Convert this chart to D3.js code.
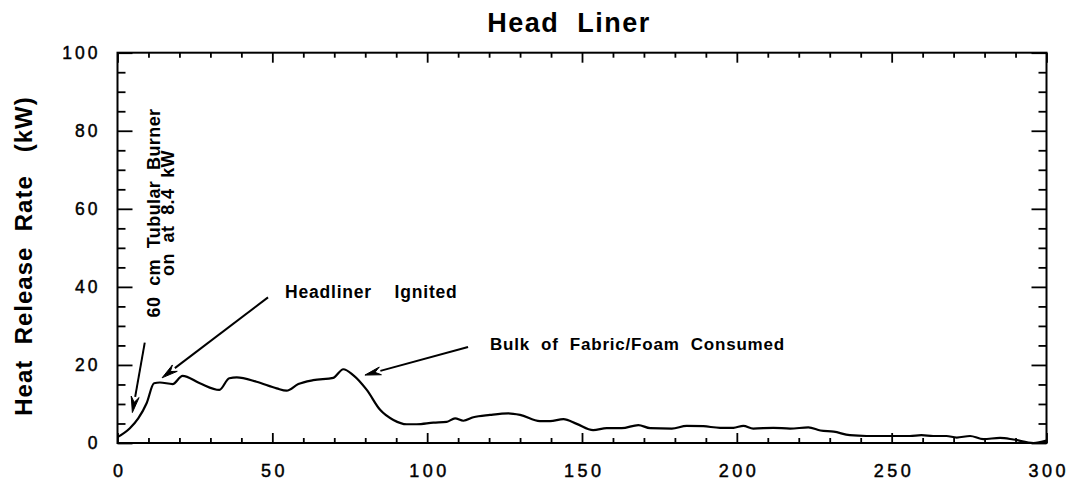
<!DOCTYPE html>
<html>
<head>
<meta charset="utf-8">
<script src="https://cdn.jsdelivr.net/npm/d3@7"></script>
<style>
  html, body { margin: 0; padding: 0; background: #fff; }
  svg { display: block; font-family: "Liberation Sans", Arial, Helvetica, sans-serif; }
</style>
</head>
<body>
<svg id="chart" width="1079" height="484"></svg>
<script>
// Heat release rate of a head liner sample, time in seconds
const timeSec = [0, 4, 6.7, 9.4, 11.8, 13.7, 17.8, 21.0, 26.6, 32.9, 36.1, 38.5, 44.9, 51.4, 54.6,
  58.4, 63.2, 69.7, 72.9, 76.1, 80.5, 84.8, 89.1, 93.4, 96.6, 102, 106.3, 109, 111.7, 114.9,
  120.3, 126.2, 130, 136.4, 139.7, 144, 148.3, 153.6, 158, 162.8, 168.2, 172, 179, 183.8,
  189.2, 194.6, 198.9, 202.1, 205.3, 211.8, 217.2, 223.1, 227, 231.3, 236.5, 241.9, 249.4,
  255.9, 259.6, 263.4, 267.7, 271, 275.3, 279.6, 285, 289.3, 295.8, 300];
const hrrKW = [1.5, 3.8, 6.3, 10.2, 15.3, 15.5, 15.1, 17.2, 15.3, 13.6, 16.6, 16.8, 15.7, 14.0, 13.4,
  15.1, 16.1, 16.7, 18.9, 17.4, 13.6, 8.5, 5.9, 4.8, 4.8, 5.2, 5.4, 6.3, 5.7, 6.6,
  7.2, 7.6, 7.2, 5.6, 5.6, 6.1, 4.9, 3.3, 3.8, 3.8, 4.6, 3.8, 3.7, 4.4,
  4.3, 3.9, 3.9, 4.4, 3.7, 3.9, 3.7, 4.0, 3.2, 2.9, 2.0, 1.8, 1.8,
  1.8, 2.0, 1.8, 1.8, 1.4, 1.8, 1.0, 1.3, 0.9, 0, 0.6];

const xMajorTicks = [0, 50, 100, 150, 200, 250, 300];
const xMinorTicks = d3.range(0, 301, 10).filter(v => v % 50 !== 0);
const yMajorTicks = [0, 20, 40, 60, 80, 100];
const yMinorTicks = d3.range(0, 101, 5).filter(v => v % 20 !== 0);

const titleText = "Head  Liner";
const yTitleText = "Heat  Release  Rate   (kW)";

// Annotations: label text and the arrow each one carries (data coordinates)
const burnerLines = ["60  cm  Tubular  Burner", "on  at  8.4  kW"];
const burnerArrow = { from: [8.8, 25.7], to: [4.8, 7.8] };
const ignitedText = "Headliner    Ignited";
const ignitedArrow = { from: [48.6, 37.3], to: [14.4, 16.7] };
const bulkText = "Bulk  of  Fabric/Foam  Consumed";
const bulkArrow = { from: [113.2, 24.6], to: [79.9, 17.4] };

const margin = { left: 117.5, right: 1079 - 1046.5, top: 52.7, bottom: 484 - 443 };
const W = 1079, H = 484;

const svg = d3.select("#chart");
const x = d3.scaleLinear().domain([0, 300]).range([margin.left, W - margin.right]);
const y = d3.scaleLinear().domain([0, 100]).range([H - margin.bottom, margin.top]);

// Frame
svg.append("rect")
  .attr("x", x(0)).attr("y", y(100))
  .attr("width", x(300) - x(0)).attr("height", y(0) - y(100))
  .attr("fill", "none").attr("stroke", "#000").attr("stroke-width", 2);

function styleAxis(g) {
  g.select(".domain").remove();
  g.selectAll(".tick line").attr("stroke", "#000").attr("stroke-width", 1.8);
}

function styleLabels(g, size, spacing) {
  g.selectAll("text")
    .attr("font-size", size).attr("fill", "#000")
    .attr("stroke", "#000").attr("stroke-width", 0.45)
    .attr("letter-spacing", spacing)
    .attr("font-family", "'Liberation Sans', Arial, sans-serif");
}

// Bottom axis with labels
svg.append("g").attr("transform", `translate(0,${y(0)})`)
  .call(d3.axisBottom(x).tickValues(xMajorTicks).tickSize(-10).tickPadding(21).tickFormat(d3.format("d")))
  .call(styleAxis)
  .call(g => styleLabels(g, 18, 3.5))
  .call(g => g.selectAll("text").attr("dx", 1.75));
svg.append("g").attr("transform", `translate(0,${y(0)})`)
  .call(d3.axisBottom(x).tickValues(xMinorTicks).tickSize(-5).tickFormat(""))
  .call(styleAxis);

// Top axis (ticks only)
svg.append("g").attr("transform", `translate(0,${y(100)})`)
  .call(d3.axisTop(x).tickValues(xMajorTicks).tickSize(-10).tickFormat(""))
  .call(styleAxis);
svg.append("g").attr("transform", `translate(0,${y(100)})`)
  .call(d3.axisTop(x).tickValues(xMinorTicks).tickSize(-5).tickFormat(""))
  .call(styleAxis);

// Left axis with labels
svg.append("g").attr("transform", `translate(${x(0)},0)`)
  .call(d3.axisLeft(y).tickValues(yMajorTicks).tickSize(-15).tickPadding(17).tickFormat(d3.format("d")))
  .call(styleAxis)
  .call(g => styleLabels(g, 17.5, 3));
svg.append("g").attr("transform", `translate(${x(0)},0)`)
  .call(d3.axisLeft(y).tickValues(yMinorTicks).tickSize(-8).tickFormat(""))
  .call(styleAxis);

// Right axis (ticks only)
svg.append("g").attr("transform", `translate(${x(300)},0)`)
  .call(d3.axisRight(y).tickValues(yMajorTicks).tickSize(-15).tickFormat(""))
  .call(styleAxis);
svg.append("g").attr("transform", `translate(${x(300)},0)`)
  .call(d3.axisRight(y).tickValues(yMinorTicks).tickSize(-8).tickFormat(""))
  .call(styleAxis);

// Curve
const series = timeSec.map((t, i) => [t, hrrKW[i]]);
svg.append("path")
  .datum(series)
  .attr("fill", "none").attr("stroke", "#000").attr("stroke-width", 2.2)
  .attr("stroke-linejoin", "round")
  .attr("d", d3.line().x(d => x(d[0])).y(d => y(d[1])).curve(d3.curveMonotoneX));

// Title
svg.append("text")
  .attr("x", 569).attr("y", 32)
  .attr("text-anchor", "middle")
  .attr("font-size", 27).attr("font-weight", "bold").attr("letter-spacing", 1.5)
  .style("white-space", "pre")
  .text(titleText);

// Y title
svg.append("text")
  .attr("transform", `translate(32,256) rotate(-90)`)
  .attr("text-anchor", "middle")
  .attr("font-size", 24).attr("font-weight", "bold").attr("letter-spacing", 1)
  .style("white-space", "pre")
  .text(yTitleText);

// Arrow helper: shaft plus narrow filled head
function arrow(a) {
  const x0 = x(a.from[0]), y0 = y(a.from[1]), x1 = x(a.to[0]), y1 = y(a.to[1]);
  const ang = Math.atan2(y1 - y0, x1 - x0);
  const len = 16, half = 4;
  const bx = x1 - len * Math.cos(ang), by = y1 - len * Math.sin(ang);
  const px = -Math.sin(ang) * half, py = Math.cos(ang) * half;
  svg.append("line")
    .attr("x1", x0).attr("y1", y0).attr("x2", bx).attr("y2", by)
    .attr("stroke", "#000").attr("stroke-width", 2);
  svg.append("path")
    .attr("d", `M${x1},${y1}L${bx + px},${by + py}L${bx + 0.35 * (x1 - bx)},${by + 0.35 * (y1 - by)}L${bx - px},${by - py}Z`)
    .attr("fill", "#000").attr("stroke", "#000").attr("stroke-width", 1);
}

// Burner annotation (rotated, two lines)
const burner = svg.append("text")
  .attr("transform", `translate(160,213) rotate(-90)`)
  .attr("text-anchor", "middle")
  .attr("font-size", 18).attr("font-weight", "bold").attr("letter-spacing", 0.4)
  .style("white-space", "pre");
burner.selectAll("tspan").data(burnerLines).join("tspan")
  .attr("x", 0).attr("dy", (d, i) => i === 0 ? 0 : 14)
  .text(d => d);
arrow(burnerArrow);

svg.append("text")
  .attr("x", 285).attr("y", 298)
  .attr("font-size", 17.5).attr("font-weight", "bold").attr("letter-spacing", 0.8)
  .style("white-space", "pre")
  .text(ignitedText);
arrow(ignitedArrow);

svg.append("text")
  .attr("x", 490).attr("y", 350)
  .attr("font-size", 17).attr("font-weight", "bold").attr("letter-spacing", 0.8)
  .style("white-space", "pre")
  .text(bulkText);
arrow(bulkArrow);
</script>
</body>
</html>
